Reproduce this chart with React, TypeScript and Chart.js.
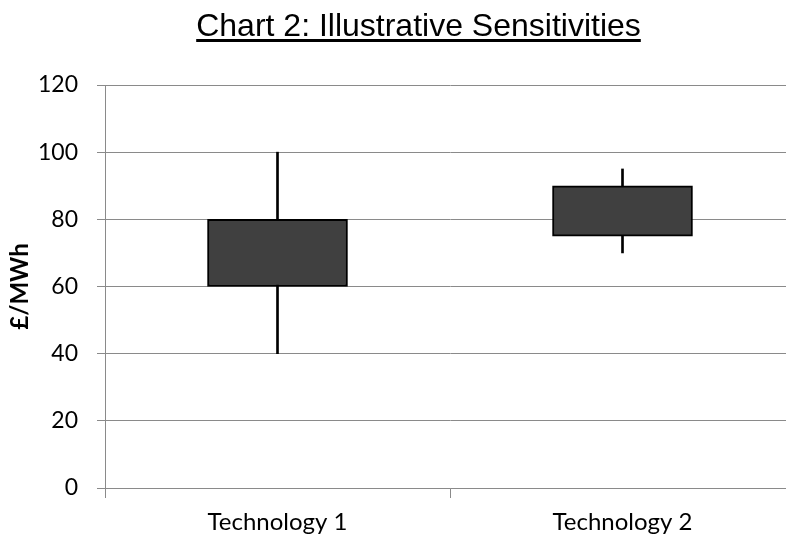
import React, { useEffect, useRef } from 'react';
import { Chart, registerables } from 'chart.js';

Chart.register(...registerables);

const chartTitle = 'Chart 2: Illustrative Sensitivities';
const yAxisTitle = '£/MWh';
const categories = ['Technology 1', 'Technology 2'];
const boxLow = [60, 75];
const boxHigh = [80, 90];
const whiskerLow = [40, 70];
const whiskerHigh = [100, 95];
const yMin = 0;
const yMax = 120;
const yStep = 20;

const GRID = '#8a8a8a';

const underlinedTitle = {
  id: 'underlinedTitle',
  afterDraw(chart: any) {
    const ctx = chart.ctx;
    ctx.save();
    ctx.font = '32px "Liberation Sans", Arial, sans-serif';
    ctx.fillStyle = '#000';
    ctx.textAlign = 'center';
    ctx.textBaseline = 'alphabetic';
    const cx = 418.5;
    ctx.fillText(chartTitle, cx, 36);
    const w = ctx.measureText(chartTitle).width;
    ctx.fillRect(cx - w / 2, 39, w, 3);
    ctx.restore();
  },
};

export default function App() {
  const ref = useRef<HTMLCanvasElement | null>(null);

  useEffect(() => {
    document.documentElement.style.overflow = 'hidden';
    document.body.style.overflow = 'hidden';
    const canvas = ref.current;
    if (!canvas) return;
    const chart = new Chart(canvas, {
      type: 'bar',
      data: {
        labels: categories,
        datasets: [
          {
            label: 'Range',
            data: categories.map((_, i) => [boxLow[i], boxHigh[i]]) as any,
            backgroundColor: '#404040',
            borderColor: '#000000',
            borderWidth: 2,
            borderSkipped: false,
            barThickness: 140,
            grouped: false,
          } as any,
          {
            label: 'Whisker',
            data: categories.map((_, i) => [whiskerLow[i], whiskerHigh[i]]) as any,
            backgroundColor: '#000000',
            borderWidth: 0,
            barThickness: 2,
            grouped: false,
          } as any,
        ],
      },
      options: {
        responsive: false,
        devicePixelRatio: 1,
        animation: false,
        layout: { padding: { top: 85, left: 0, right: 5, bottom: 0 } },
        plugins: {
          legend: { display: false },
          tooltip: { enabled: false },
          title: { display: false },
        },
        scales: {
          x: {
            offset: true,
            grid: {
              display: true,
              offset: true,
              drawOnChartArea: false,
              drawTicks: true,
              tickLength: 10,
              color: GRID,
              lineWidth: 1,
            },
            border: { display: true, color: GRID, width: 1 },
            ticks: {
              color: '#000',
              font: { family: 'Lato, "Open Sans", sans-serif', size: 24 },
              padding: 10,
              maxRotation: 0,
            },
            afterFit: (s: any) => {
              s.height = 50;
            },
          },
          y: {
            min: yMin,
            max: yMax,
            ticks: {
              stepSize: yStep,
              color: '#000',
              font: { family: 'Lato, "Open Sans", sans-serif', size: 23 },
              padding: 19,
            },
            grid: {
              color: GRID,
              lineWidth: 1,
              tickLength: 8,
              drawTicks: true,
            },
            border: { display: true, color: GRID, width: 1 },
            title: {
              display: true,
              text: yAxisTitle,
              color: '#000',
              font: { family: 'Lato, "Open Sans", sans-serif', size: 24, weight: 'bold' },
              padding: { top: 6, bottom: 0 },
            },
            afterFit: (s: any) => {
              s.width = 105;
            },
          },
        },
      },
      plugins: [underlinedTitle],
    });
    return () => chart.destroy();
  }, []);

  return (
    <div style={{ position: 'fixed', left: 0, top: 0, width: 800, height: 538, background: '#fff' }}>
      <canvas ref={ref} width={800} height={538} style={{ display: 'block' }} />
    </div>
  );
}
